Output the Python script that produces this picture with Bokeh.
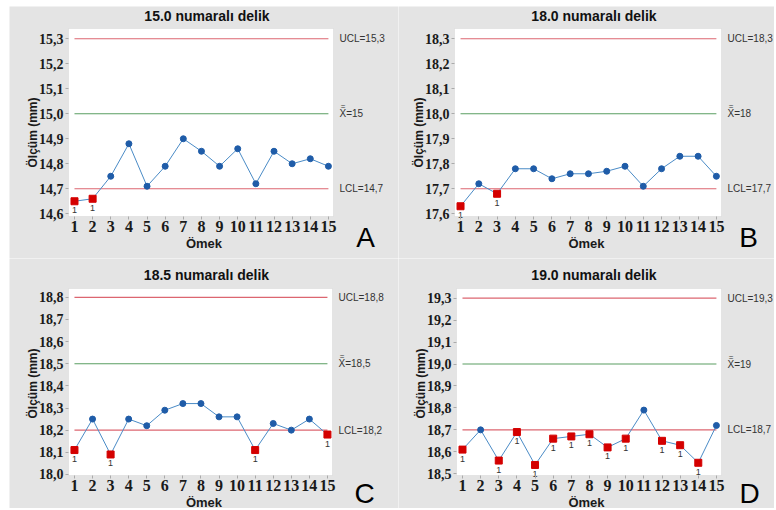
from bokeh.plotting import figure
from bokeh.models import Range1d, FixedTicker, ColumnDataSource, BoxAnnotation, Spacer
from bokeh.layouts import gridplot, column, row
from bokeh.core.properties import value
from bokeh.embed import file_html
from bokeh.resources import INLINE

samples = list(range(1, 16))
titles = ["15.0 numaralı delik", "18.0 numaralı delik", "18.5 numaralı delik", "19.0 numaralı delik"]
letters = ["A", "B", "C", "D"]

vals_a = [14.65, 14.66, 14.75, 14.88, 14.71, 14.79, 14.90, 14.85, 14.79, 14.86, 14.72, 14.85, 14.80, 14.82, 14.79]
vals_b = [17.63, 17.72, 17.68, 17.78, 17.78, 17.74, 17.76, 17.76, 17.77, 17.79, 17.71, 17.78, 17.83, 17.83, 17.75]
vals_c = [18.11, 18.25, 18.09, 18.25, 18.22, 18.29, 18.32, 18.32, 18.26, 18.26, 18.11, 18.23, 18.20, 18.25, 18.18]
vals_d = [18.61, 18.70, 18.56, 18.69, 18.54, 18.66, 18.67, 18.68, 18.62, 18.66, 18.79, 18.65, 18.63, 18.55, 18.72]

flag_a = [1, 1, 0, 0, 0, 0, 0, 0, 0, 0, 0, 0, 0, 0, 0]
flag_b = [1, 0, 1, 0, 0, 0, 0, 0, 0, 0, 0, 0, 0, 0, 0]
flag_c = [1, 0, 1, 0, 0, 0, 0, 0, 0, 0, 1, 0, 0, 0, 1]
flag_d = [1, 0, 1, 1, 1, 1, 1, 1, 1, 1, 0, 1, 1, 1, 0]

ucl = [15.3, 18.3, 18.8, 19.3]
center = [15.0, 18.0, 18.5, 19.0]
lcl = [14.7, 17.7, 18.2, 18.7]
ucl_labels = ["UCL=15,3", "UCL=18,3", "UCL=18,8", "UCL=19,3"]
center_labels = ["X=15", "X=18", "X=18,5", "X=19"]
lcl_labels = ["LCL=14,7", "LCL=17,7", "LCL=18,2", "LCL=18,7"]

y_ticks = [
    [14.6, 14.7, 14.8, 14.9, 15.0, 15.1, 15.2, 15.3],
    [17.6, 17.7, 17.8, 17.9, 18.0, 18.1, 18.2, 18.3],
    [18.0, 18.1, 18.2, 18.3, 18.4, 18.5, 18.6, 18.7, 18.8],
    [18.5, 18.6, 18.7, 18.8, 18.9, 19.0, 19.1, 19.2, 19.3],
]
y_tick_labels = [
    ["14,6", "14,7", "14,8", "14,9", "15,0", "15,1", "15,2", "15,3"],
    ["17,6", "17,7", "17,8", "17,9", "18,0", "18,1", "18,2", "18,3"],
    ["18,0", "18,1", "18,2", "18,3", "18,4", "18,5", "18,6", "18,7", "18,8"],
    ["18,5", "18,6", "18,7", "18,8", "18,9", "19,0", "19,1", "19,2", "19,3"],
]
# plot-area data limits (y) and shared x limits
y_limits = [(14.589, 15.341), (17.589, 18.341), (17.995, 18.840), (18.492, 19.344)]
x_limits = (0.67, 15.28)

values = [vals_a, vals_b, vals_c, vals_d]
flags = [flag_a, flag_b, flag_c, flag_d]

# ---- layout (pixels) ----
fig_sizes = [(389, 252), (376, 252), (389, 250), (376, 250)]
# white plot-area box inside each figure: left, right, top, bottom (px)
plot_boxes = [(59, 324, 22, 210), (56, 323, 22, 210), (59, 323, 30, 217), (58, 323, 30, 217)]
title_dy = [-13, -13, -14, -14]
title_dx = [6, 6, 6, 5]
letter_dx = [32, 27, 32, 28]
letter_dy = [21, 21, 18, 18]

BG = "#e4e4e4"
LIMIT_RED = "#dc6670"
CENTER_GREEN = "#5a9e62"
LINE_BLUE = "#4a8bc6"
DOT_BLUE = "#1f5ca8"
SQ_RED = "#d40000"
TICK_FONT = "Liberation Sans Narrow"
TXT = "Liberation Sans"


def make_panel(i):
    w, h = fig_sizes[i]
    left, right, top, bottom = plot_boxes[i]
    xlo, xhi = x_limits
    ylo, yhi = y_limits[i]
    sx = (xhi - xlo) / (right - left)
    sy = (yhi - ylo) / (bottom - top)
    xr = Range1d(xlo - left * sx, xhi + (w - right) * sx)
    yr = Range1d(ylo - (h - bottom) * sy, yhi + top * sy)

    p = figure(width=w, height=h, output_backend="svg", toolbar_location=None,
               x_range=xr, y_range=yr, min_border=0)
    p.min_border_left = p.min_border_right = p.min_border_top = p.min_border_bottom = 0
    p.background_fill_color = BG
    p.border_fill_color = BG
    p.outline_line_color = None
    p.grid.visible = False

    # white plot area
    p.add_layout(BoxAnnotation(left=xlo, right=xhi, bottom=ylo, top=yhi, fill_color="white",
                               fill_alpha=1.0, line_color="#c4c4c4", line_width=1, level="underlay"))

    # axes pinned to the plot-area edges
    p.xaxis.fixed_location = ylo
    p.yaxis.fixed_location = xlo
    p.xaxis.ticker = FixedTicker(ticks=samples)
    p.yaxis.ticker = FixedTicker(ticks=y_ticks[i])
    p.yaxis.major_label_overrides = {t: s for t, s in zip(y_ticks[i], y_tick_labels[i])}
    for ax in (p.xaxis, p.yaxis):
        ax.axis_line_color = None
        ax.major_tick_line_color = "#aaaaaa"
        ax.major_tick_out = 3
        ax.major_tick_in = 0
        ax.minor_tick_line_color = None
        ax.major_label_text_font = TICK_FONT
        ax.major_label_text_font_style = "bold"
        ax.major_label_text_color = "#1a1a1a"
        ax.axis_label_text_font = TXT
        ax.axis_label_text_font_style = "bold"
        ax.axis_label_text_color = "#1a1a1a"
    p.xaxis.major_label_text_font_size = "16px"
    p.yaxis.major_label_text_font_size = "14px"
    p.xaxis.axis_label_text_font_size = "13px"
    p.yaxis.axis_label_text_font_size = "12px"
    p.xaxis.major_label_standoff = 1
    p.yaxis.major_label_standoff = 2
    p.xaxis.axis_label = "Ömek"
    p.yaxis.axis_label = "Ölçüm (mm)"
    p.xaxis.axis_label_standoff = 1
    p.yaxis.axis_label_standoff = -4

    # control limit lines
    xs = [samples[0], samples[-1]]
    p.line(xs, [ucl[i]] * 2, line_color=LIMIT_RED, line_width=1.1)
    p.line(xs, [lcl[i]] * 2, line_color=LIMIT_RED, line_width=1.1)
    p.line(xs, [center[i]] * 2, line_color=CENTER_GREEN, line_width=1.1)

    # data
    v = values[i]
    f = flags[i]
    p.line(samples, v, line_color=LINE_BLUE, line_width=1)
    ok = ColumnDataSource(dict(x=[s for s, g in zip(samples, f) if not g],
                               y=[y for y, g in zip(v, f) if not g]))
    bad = ColumnDataSource(dict(x=[s for s, g in zip(samples, f) if g],
                                y=[y for y, g in zip(v, f) if g],
                                t=["1" for g in f if g]))
    p.scatter("x", "y", source=ok, marker="circle", size=6, fill_color=DOT_BLUE, line_color=DOT_BLUE)
    p.scatter("x", "y", source=bad, marker="square", size=7, fill_color=SQ_RED, line_color=SQ_RED)
    p.text("x", "y", text="t", source=bad, text_font=value(TXT), text_font_size="9px",
           text_color="#333333", text_align="center", text_baseline="middle", y_offset=9)

    # title
    p.text(x=[(xlo + xhi) / 2], y=[yhi], text=[titles[i]], x_offset=title_dx[i], y_offset=title_dy[i],
           text_align="center", text_baseline="middle", text_font=value(TXT),
           text_font_style="bold", text_font_size="14px", text_color="#111111")

    # limit labels
    lab_kw = dict(text_font=value(TXT), text_font_size="10px", text_color="#333333",
                  text_baseline="middle", text_align="left", x_offset=6)
    p.text(x=[xhi] * 3, y=[ucl[i], center[i], lcl[i]],
           text=[ucl_labels[i], center_labels[i], lcl_labels[i]], **lab_kw)
    p.text(x=[xhi], y=[center[i]], text=["="], x_offset=9.5, y_offset=-7,
           text_font=value(TXT), text_font_size="8px", text_color="#333333",
           text_baseline="middle", text_align="center")

    # panel letter
    p.text(x=[xhi], y=[ylo], text=[letters[i]], x_offset=letter_dx[i], y_offset=letter_dy[i],
           text_align="center", text_baseline="middle", text_font=value(TXT),
           text_font_size="28px", text_color="#000000")
    return p


panels = [make_panel(i) for i in range(4)]
grid = gridplot([[panels[0], panels[1]], [panels[2], panels[3]]], toolbar_location=None)
page = column(Spacer(height=6), row(Spacer(width=9), grid))

with open("out.html", "w") as fh:
    fh.write(file_html(page, INLINE))
